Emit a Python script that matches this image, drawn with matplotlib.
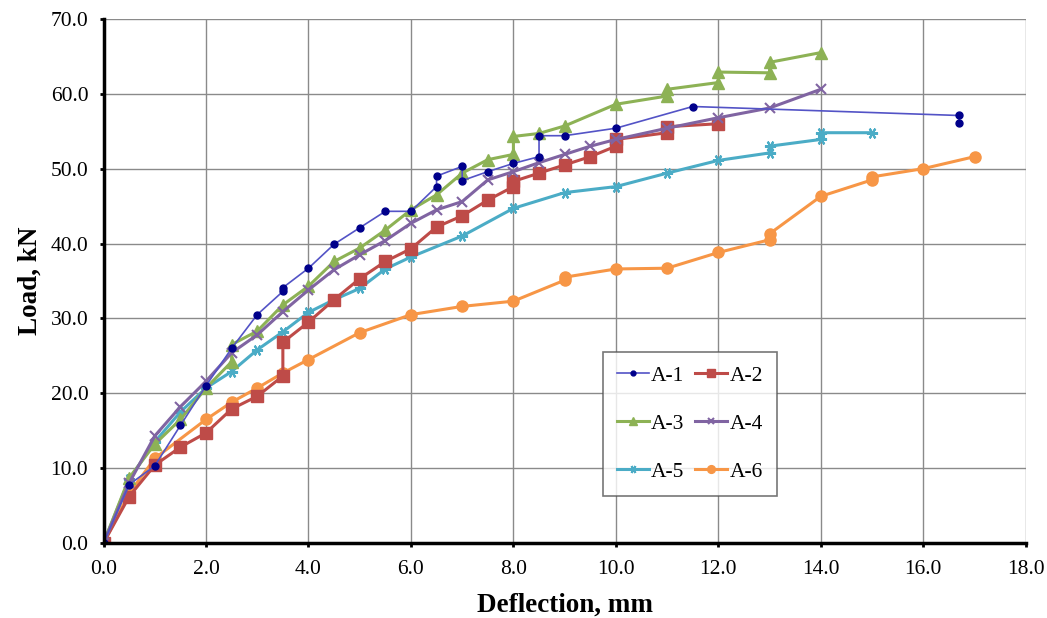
import matplotlib
matplotlib.use("Agg")
import matplotlib.pyplot as plt

# load-deflection readings for the six specimens
a1_x = [0, 0.5, 1.0, 1.5, 2.0, 2.5, 3.0, 3.5, 3.5, 4.0, 4.5, 5.0, 5.5, 6.0, 6.5, 6.5,
        7.0, 7.0, 7.5, 8.0, 8.5, 8.5, 9.0, 10.0, 11.5, 16.7, 16.7]
a1_y = [0, 7.8, 10.3, 15.7, 21.0, 26.0, 30.5, 33.6, 34.1, 36.7, 39.9, 42.1, 44.3, 44.3, 47.6, 49.0,
        50.3, 48.4, 49.6, 50.7, 51.6, 54.4, 54.4, 55.4, 58.3, 57.1, 56.1]

a2_x = [0, 0.5, 1.0, 1.5, 2.0, 2.5, 3.0, 3.5, 3.5, 4.0, 4.5, 5.0, 5.5, 6.0, 6.5, 7.0,
        7.5, 8.0, 8.0, 8.5, 9.0, 9.5, 10.0, 10.0, 11.0, 11.0, 12.0]
a2_y = [0, 6.2, 10.4, 12.8, 14.7, 17.9, 19.6, 22.3, 26.8, 29.5, 32.5, 35.3, 37.6, 39.3, 42.2, 43.7,
        45.8, 47.6, 48.3, 49.4, 50.5, 51.6, 53.0, 53.9, 54.8, 55.6, 56.0]

a3_x = [0, 0.5, 1.0, 1.5, 2.0, 2.5, 2.5, 3.0, 3.5, 4.0, 4.5, 5.0, 5.5, 6.0, 6.5, 7.0,
        7.5, 8.0, 8.0, 8.5, 9.0, 10.0, 11.0, 11.0, 12.0, 12.0, 13.0, 13.0, 14.0]
a3_y = [0, 8.7, 13.2, 16.5, 20.7, 24.2, 26.5, 28.3, 31.8, 34.3, 37.6, 39.4, 41.8, 44.5, 46.5, 49.4,
        51.2, 51.9, 54.3, 54.7, 55.7, 58.6, 59.7, 60.6, 61.5, 62.9, 62.8, 64.2, 65.5]

a4_x = [0, 0.5, 1.0, 1.5, 2.0, 2.5, 3.0, 3.5, 4.0, 4.5, 5.0, 5.5, 6.0, 6.5, 7.0, 7.5,
        8.0, 8.5, 9.0, 9.5, 10.0, 11.0, 12.0, 13.0, 14.0]
a4_y = [0, 8.0, 14.3, 18.2, 21.6, 25.4, 27.8, 30.9, 33.8, 36.5, 38.5, 40.4, 42.7, 44.5, 45.6, 48.5,
        49.6, 50.8, 51.9, 53.0, 53.9, 55.4, 56.8, 58.1, 60.6]

a5_x = [0, 0.5, 1.0, 1.5, 2.0, 2.5, 3.0, 3.5, 4.0, 4.5, 5.0, 5.5, 6.0, 7.0, 8.0, 9.0,
        10.0, 11.0, 12.0, 13.0, 13.0, 14.0, 14.0, 15.0]
a5_y = [0, 8.5, 13.5, 17.5, 20.7, 22.9, 25.8, 28.2, 30.8, 32.5, 34.0, 36.6, 38.2, 41.0, 44.7, 46.8,
        47.6, 49.4, 51.1, 52.1, 53.0, 53.9, 54.8, 54.8]

a6_x = [0, 0.5, 1.0, 2.0, 2.5, 3.0, 3.5, 4.0, 5.0, 6.0, 7.0, 8.0, 9.0, 9.0, 10.0, 11.0,
        12.0, 13.0, 13.0, 14.0, 15.0, 15.0, 16.0, 17.0]
a6_y = [0, 6.6, 11.3, 16.5, 18.8, 20.7, 22.7, 24.5, 28.1, 30.5, 31.6, 32.3, 35.1, 35.5, 36.6, 36.7,
        38.8, 40.5, 41.3, 46.3, 48.5, 48.9, 50.0, 51.6]

x_ticks = [0, 2, 4, 6, 8, 10, 12, 14, 16, 18]
y_ticks = [0, 10, 20, 30, 40, 50, 60, 70]

plt.rcParams['font.family'] = ['Liberation Serif', 'DejaVu Serif']

fig = plt.figure(figsize=(10.47, 6.18), dpi=100)
ax = fig.add_axes([0.0989, 0.1214, 0.8808, 0.848])

l1, = ax.plot(a1_x, a1_y, color='#5353c6', lw=1.2, marker='o', ms=5,
              mfc='#00008b', mec='#00008b', label='A-1', zorder=8)
l2, = ax.plot(a2_x, a2_y, color='#be4b48', lw=2.2, marker='s', ms=8,
              mfc='#be4b48', mec='#be4b48', label='A-2', zorder=5)
l3, = ax.plot(a3_x, a3_y, color='#8db255', lw=2.2, marker='^', ms=8,
              label='A-3', zorder=6)
l4, = ax.plot(a4_x, a4_y, color='#8064a2', lw=2.2, marker='x', ms=7, mew=1.5,
              label='A-4', zorder=7)
l5, = ax.plot(a5_x, a5_y, color='#4bacc6', lw=2.2, marker=(6, 2, 90), ms=8, mew=1.5,
              label='A-5', zorder=4)
l6, = ax.plot(a6_x, a6_y, color='#f79646', lw=2.2, marker='o', ms=8,
              label='A-6', zorder=3)

ax.set_xlim(0, 18)
ax.set_ylim(0, 70)
ax.set_xticks(x_ticks)
ax.set_yticks(y_ticks)
ax.set_xticklabels([f"{v:.1f}" for v in x_ticks])
ax.set_yticklabels([f"{v:.1f}" for v in y_ticks])
ax.tick_params(labelsize=15.5, length=3, width=2, direction='out', colors='black')
ax.tick_params(axis='x', pad=9)
ax.tick_params(axis='y', pad=8)
ax.grid(True, color='#8a8a8a', lw=1.0)
ax.set_axisbelow(True)

for s in ['top', 'right']:
    ax.spines[s].set_visible(False)
for s in ['left', 'bottom']:
    ax.spines[s].set_linewidth(2.5)
    ax.spines[s].set_zorder(10)

ax.set_xlabel('Deflection, mm', fontsize=19.5, fontweight='bold', labelpad=10)
ax.set_ylabel('Load, kN', fontsize=19.5, fontweight='bold', labelpad=6)

# two-column legend filled row by row
leg = ax.legend([l1, l3, l5, l2, l4, l6], ['A-1', 'A-3', 'A-5', 'A-2', 'A-4', 'A-6'],
                ncol=2, loc='lower left', bbox_to_anchor=(9.74 / 18, 6.3 / 70),
                borderaxespad=0, fontsize=15.5, frameon=True, fancybox=False,
                edgecolor='#555555', handlelength=1.5, handletextpad=0.1,
                columnspacing=0.5, labelspacing=1.3, borderpad=0.65, markerscale=0.7)
leg.get_frame().set_linewidth(1.2)

fig.savefig('out.png', dpi=100)
